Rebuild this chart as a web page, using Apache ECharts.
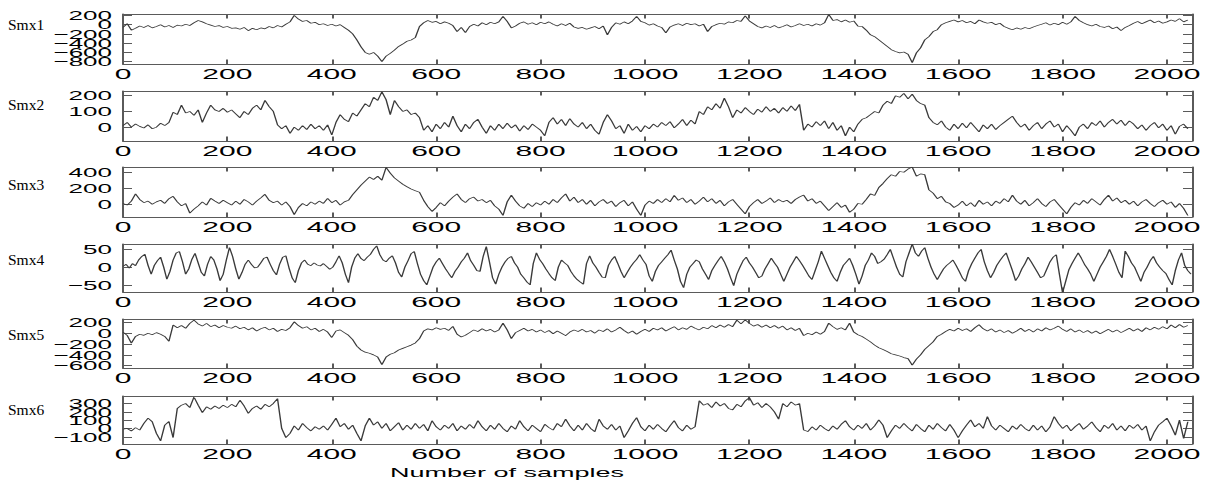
<!DOCTYPE html>
<html>
<head>
<meta charset="utf-8">
<script src="https://cdn.jsdelivr.net/npm/echarts@6/dist/echarts.min.js"></script>
<style>
html, body { margin: 0; padding: 0; background: #fff; overflow: hidden; }
#wrap { position: relative; width: 1210px; height: 483px; }
/* the plot figure is drawn at half width and stretched, like the exported figure */
#plots { position: absolute; left: 0; top: 0; width: 605px; height: 483px; transform: scaleX(2); transform-origin: 0 0; }
#names { position: absolute; left: 0; top: 0; width: 1210px; height: 483px; pointer-events: none; }
</style>
</head>
<body>
<div id="wrap"><div id="plots"></div><div id="names"></div></div>
<script>
// ---- data -------------------------------------------------------------
const channelNames = ['Smx1', 'Smx2', 'Smx3', 'Smx4', 'Smx5', 'Smx6'];
const xTitle = 'Number of samples';
const sampleTicks = [0, 200, 400, 600, 800, 1000, 1200, 1400, 1600, 1800, 2000];
const sampleCount = 2048;

// sample spacing of each stored series
const smxStep = [8, 8, 8, 6, 8, 8];

const smx1 = [
  -60, 20, -120, -80, -30, -60, -20, -70, -40, 0, -50, -20, -60, -10, -30, 10,
  -20, 40, 90, 60, 20, -10, -40, -20, -60, -40, -80, -70, -100, -60, -130, -80,
  -110, -70, -90, -40, -70, -20, -50, 10, 60, 200, 120, 70, 90, 30, 50, 0,
  20, -20, 10, -30, 0, -60, -120, -200, -330, -480, -600, -640, -600, -680, -800, -680,
  -620, -550, -470, -420, -360, -330, -280, -40, 40, 90, 50, 70, 20, 60, 30, -20,
  -150, -60, -170, -40, 10, -30, 40, 0, 50, 20, 60, 180, 70, -70, -30, 30,
  60, 10, 40, 0, 50, 20, 60, 10, -30, 20, -20, 30, -50, -80, -60, -100,
  -70, -40, -90, -30, -220, -60, 40, 10, 60, 20, 80, 180, 70, 40, -10, 20,
  -30, -60, -180, -50, -10, 20, -20, 30, 0, 20, -30, 10, -150, -40, 0, 30,
  10, 60, 40, 90, 70, 190, 80, 20, -40, -70, -30, -60, -20, -70, -40, 0,
  -50, -20, 20, -20, 10, -30, 20, -10, 40, 220, 90, 110, 60, 100, 50, 80,
  -30, -40, -120, -220, -260, -330, -400, -470, -540, -580, -610, -590, -640, -820, -610, -500,
  -330, -260, -150, -110, 0, 40, 70, 100, 60, 90, 40, 70, 20, 100, 60, 30,
  50, 0, 30, -40, -80, -110, -70, -100, -60, -90, -50, -20, 10, 40, -10, 30,
  0, 50, 10, 60, 180, 90, 40, 0, -30, 10, -40, -60, -30, -90, -50, -130,
  -60, -20, 30, 70, 20, 60, 100, 40, 80, 30, 60, 100, 70, 130, 60, 100
];

const smx2 = [
  10, 30, 0, 20, 5, -5, 15, -10, 0, 25, 10, 30, 95, 80, 140, 90,
  100, 75, 110, 30, 90, 140, 110, 100, 120, 95, 110, 85, 60, 100, 80, 120,
  140, 110, 170, 130, 100, 15, -10, 10, -40, 0, -20, 10, -15, 20, -10, 10,
  -20, 15, -50, 30, 80, 50, 35, 90, 70, 110, 150, 130, 190, 170, 225, 175,
  80, 170, 130, 100, 110, 80, 90, 60, -20, 10, -30, 20, -10, 30, 0, 70,
  10, -30, 20, -10, 30, 50, 0, -40, 10, -20, 20, -10, 25, -5, 15, -25,
  10, -15, 20, 0, -20, -55, 30, 60, 20, 50, 10, 55, 20, 0, 30, -10,
  20, -20, -45, 30, 80, 40, -10, 10, -40, 20, -20, 5, -30, 10, -10, 20,
  0, 30, 10, 35, -5, 20, 50, 10, 45, 20, 100, 80, 130, 110, 150, 120,
  185, 130, 60, 110, 90, 125, 100, 80, 115, 95, 130, 100, 120, 90, 125, 100,
  135, 105, 145, -20, 20, 0, 35, 10, 40, -10, 30, -20, 10, -55, 0, -30,
  20, 50, 60, 80, 100, 90, 140, 165, 150, 200, 190, 215, 180, 210, 170, 150,
  140, 60, 30, 15, 40, 0, -20, 20, -10, 25, -5, 30, 0, -30, 15, -10,
  20, -15, 10, 30, 50, 70, 30, 0, 20, -20, 10, 30, -10, 20, 40, 0,
  20, -30, 10, -20, -55, 0, 20, -10, 30, 10, 40, 0, 30, 50, 20, 45,
  10, 40, 20, -10, 15, -20, 10, 30, -5, 20, -20, 10, -45, 5, 20, -10
];

const smx3 = [
  10, -10, 40, 130, 60, 20, 40, 0, 30, 50, 10, 70, 100, 30, -20, 10,
  -110, -60, -20, 30, -10, 75, 40, 10, 50, 20, -10, 40, 0, 60, 30, -10,
  40, 80, 125, 50, 20, 40, -10, 30, -30, -130, -40, 10, -20, 30, 0, 40,
  10, 75, 20, 50, -10, 30, 50, 120, 180, 240, 290, 340, 310, 350, 300, 460,
  390, 330, 290, 250, 220, 190, 170, 150, 50, -30, -90, -40, 20, -20, 40, 90,
  130, 60, 20, 70, 90, 40, 60, 20, 50, -20, -60, -140, 30, 115, 40, -20,
  -50, 10, -30, 20, -10, 40, 0, 60, 20, 80, 130, 40, 90, 20, 60, 0,
  50, -20, 30, 60, 10, 40, -30, 20, 50, -20, 30, -60, -140, -10, 40, 10,
  60, 20, 70, 30, 110, 50, 80, 20, 60, 0, 40, 90, 30, 70, 10, 50,
  -20, 30, 60, 0, -60, -120, -30, 20, 60, 10, 40, 80, 20, 60, 30, 50,
  10, 60, 90, 115, 40, 70, 10, 40, -20, -80, -30, 20, -40, -10, -100, -60,
  10, 0, 60, 130, 110, 210, 260, 320, 370, 350, 410, 400, 440, 465, 350, 380,
  370, 180, 140, 70, 100, 30, 10, -40, -10, 40, -20, 20, -30, 50, 0, 30,
  -20, 40, 10, 70, 30, 115, 40, 0, 50, -20, 20, 70, 10, -30, 30, 60,
  0, -60, -120, -40, 20, -10, 50, 10, 70, 30, -10, 60, 115, 40, 80, 20,
  50, 0, 40, -20, 30, 60, 10, -30, 20, 50, 0, 30, -40, 10, -50, -140
];

const smx4 = [
  2, 8, -3, 10, 4, 20, 30, 36, 5, -20,
  5, 18, 28, 0, -34, -12, 20, 40, 44, 15,
  -20, -5, 22, 39, 12, -15, -25, 8, 30, 20,
  -5, -38, -20, 20, 55, 30, -5, -34, -15, 8,
  20, 8, -2, 0, 12, 25, 28, 8, -10, -22,
  8, 28, 32, -2, -30, -44, -10, 12, 20, 8,
  4, 12, 6, 3, 10, 2, -6, 0, 15, 32,
  12, -20, -44, 0, 25, 38, 24, 18, 28, 36,
  50, 60, 35, 20, 15, 25, 32, 12, -15, -28,
  0, 18, 38, 44, 10, -20, -38, -50, -25, 0,
  15, 25, 10, -5, -18, -30, -12, 0, 15, 25,
  40, 18, 5, -10, -12, 30, 58, 15, -30, -48,
  -20, 0, 15, 25, 30, 12, 0, -20, -30, -42,
  -50, 10, 40, 22, 10, -5, -18, -30, -38, 0,
  20, 12, 5, -12, -25, -35, -42, -48, 10, 32,
  12, 0, -15, -28, -30, 5, 20, 30, 10, -12,
  -30, -15, 0, 12, 22, 35, 20, 8, -25, -40,
  -12, 5, 15, 25, 35, 48, 20, -5, -40, -58,
  -20, 0, 10, 20, 15, -5, -20, -35, -10, 5,
  18, 30, 15, -5, -30, -52, -20, 0, 18, 28,
  12, 0, -15, -30, -25, -5, 10, 25, 12, 0,
  -20, -40, -20, 0, 15, 30, 18, 5, -10, -25,
  -35, -10, 15, 45, 25, 5, -15, -30, -40, -15,
  5, 15, 25, 5, -20, -48, -25, 5, 20, 40,
  30, 10, 15, 22, 35, 50, 25, 0, -20, -28,
  15, 40, 65, 40, 30, 45, 55, 25, 0, -20,
  -35, -20, -5, 5, 12, 20, 5, -12, -30, -40,
  -10, 10, 25, 40, 50, 15, -10, -30, -15, 5,
  18, 30, 40, 15, -10, -38, -25, -5, 10, 28,
  15, 0, -15, -30, -25, -5, 15, 28, 35, -20,
  -72, -40, -8, 10, 25, 40, 25, 8, -5, -20,
  -40, -20, 0, 15, 30, 50, 30, 8, -15, -30,
  45, 30, 12, 0, -20, -40, -15, 0, 18, 30,
  12, 0, -10, -18, -35, -50, -10, 20, 40, 5,
  -10, -20
];

const smx5 = [
  20, -40, -185, -60, -20, -40, 0, -30, 10, -20, -60, -150, 150, 100, 140, 90,
  180, 240, 170, 130, 180, 120, 150, 100, 140, 110, 90, 130, 80, 110, 60, 100,
  40, 80, 110, 60, 90, 30, 70, 50, 100, 210, 140, 90, 120, 60, 90, 30,
  70, 20, -80, 40, 60, 10, -40, -120, -240, -310, -350, -370, -400, -440, -580, -440,
  -390, -360, -310, -280, -250, -220, -180, -100, 40, 80, 60, 100, 70, 90, 50, 125,
  -20, -70, -40, 10, 60, 30, 80, 40, 70, 20, 60, 185, 60, -100, 10, 50,
  90, 40, 70, 20, 60, 10, 50, -10, 40, 0, -45, 20, 60, 30, 70, 20,
  50, 0, 60, 30, 80, 20, 60, 110, 50, 0, 40, -20, 30, 70, 30, 90,
  60, 100, 40, 80, 120, 60, 100, 70, 130, 90, 60, 110, 80, 140, 100, 150,
  110, 160, 120, 240, 170, 245, 180, 130, 160, 110, 150, 100, 140, 90, 130, 60,
  100, 50, 90, -45, 0, -30, 20, -20, 30, 185, 120, 70, 100, 60, 185, 20,
  -30, -60, -110, -160, -220, -270, -300, -340, -380, -400, -420, -450, -470, -590, -480, -400,
  -300, -230, -160, -60, -20, 30, 70, 40, 90, 50, 80, 30, 100, 155, 80, 40,
  80, 20, 60, 10, 50, 0, 40, 90, 30, 70, 20, 80, 40, 100, 60, 90,
  130, 70, 30, 80, 20, 60, 10, 50, 0, 40, -10, 30, 70, 20, 60, 10,
  50, 90, 40, 80, 30, 100, 60, 110, 70, 120, 80, 150, 100, 160, 110, 140
];

const smx6 = [
  -10, 0, -30, 10, -20, 60, 124, 80, -60, -150, 40, 84, -110, 240, 280, 300,
  250, 378, 280, 190, 260, 230, 270, 240, 280, 250, 290, 260, 339, 270, 182, 240,
  270, 230, 290, 260, 300, 359, 0, -110, -60, 30, -20, 60, 10, -30, 20, -10,
  30, -20, 50, 124, 20, 60, -10, 40, -60, -150, 30, 124, 40, 80, 0, 60,
  -30, 20, 70, -20, 40, -10, 60, 0, 50, -30, 93, 20, -20, 40, 0, 60,
  -30, 30, -10, 50, 0, 93, 20, -30, 40, -10, 60, 0, -40, 30, -10, 93,
  20, -30, 40, 0, -40, 50, 10, -20, 60, 20, 111, 30, -30, 40, -20, 60,
  0, -40, 111, 30, -10, 50, -20, 30, -111, -30, 60, 130, 20, -30, 40, -10,
  50, 0, -40, 30, 93, 10, -30, 40, -10, 20, 333, 280, 300, 250, 320, 270,
  300, 240, 222, 290, 260, 330, 370, 280, 310, 250, 300, 260, 200, 111, 300, 260,
  320, 280, 300, -18, -37, 20, -20, 40, 0, -30, 30, -10, 50, 93, 20, -20,
  40, 0, 60, -20, 30, 104, 40, -111, -30, 40, 0, 60, 10, -30, 50, 0,
  -40, 40, -10, 60, 10, -30, 50, -20, -112, -30, 40, 104, 20, 60, 0, 143,
  30, -20, 40, 0, -40, 30, -10, 50, 0, -30, 40, -20, 30, -40, 20, 143,
  60, 0, 40, -30, 20, 60, -10, 30, 80, 10, -40, 40, 0, 60, -20, 30,
  -30, 40, 0, 50, -20, 30, -151, -40, 40, 80, 124, 30, -80, 100, -120, 80
];

const smxData = [smx1, smx2, smx3, smx4, smx5, smx6];

// value-axis tick labels of each channel
const smxTicks = [
  [-800, -600, -400, -200, 0, 200],
  [0, 100, 200],
  [0, 200, 400],
  [-50, 0, 50],
  [-600, -400, -200, 0, 200],
  [-100, 0, 100, 200, 300]
];

// ---- layout -----------------------------------------------------------
const panelTop = [14, 91, 167, 244, 319, 396];
const panelHeight = [50, 50, 50, 48, 49, 48];
const yMin = [-850, -88, -159, -70, -642, -187];
const yMax = [230, 230, 466, 65, 261, 390];
const nameY = [25, 105, 185, 260, 335, 410];

const frame = '#5a5a5a';
const plainNumber = v => String(v).replace('-', '\u2212');

const grids = [], xAxes = [], yAxes = [], series = [];
channelNames.forEach((name, i) => {
  grids.push({ left: 61.5, width: 534.5, top: panelTop[i], height: panelHeight[i] });
  const tickStyle = { inside: true, length: 4.5, lineStyle: { color: frame, width: 1 } };
  const labelStyle = { fontSize: 13, color: '#000', fontFamily: 'Liberation Sans',
                       formatter: plainNumber, showMinLabel: true, showMaxLabel: true,
                       hideOverlap: false, interval: 0 };
  xAxes.push({
    gridIndex: i, type: 'value', min: 0, max: sampleCount, position: 'bottom',
    axisLine: { show: true, onZero: false, lineStyle: { color: frame, width: 1 } },
    axisTick: Object.assign({ customValues: sampleTicks }, tickStyle),
    axisLabel: Object.assign({}, labelStyle, { customValues: sampleTicks, margin: 2, fontSize: 15 }),
    splitLine: { show: false }
  });
  xAxes.push({
    gridIndex: i, type: 'value', min: 0, max: sampleCount, position: 'top',
    axisLine: { show: true, onZero: false, lineStyle: { color: frame, width: 1 } },
    axisTick: Object.assign({ customValues: sampleTicks }, tickStyle),
    axisLabel: { show: false }, splitLine: { show: false }
  });
  // tick labels sit closer together than their height, so every other one
  // goes on a second left axis (labels of one axis would otherwise be thinned out)
  const evenLabels = smxTicks[i].filter((v, k) => k % 2 === 0);
  const oddLabels = smxTicks[i].filter((v, k) => k % 2 === 1);
  yAxes.push({
    gridIndex: i, type: 'value', min: yMin[i], max: yMax[i], position: 'left',
    axisLine: { show: true, onZero: false, lineStyle: { color: frame, width: 1 } },
    axisTick: Object.assign({ customValues: smxTicks[i] }, tickStyle),
    axisLabel: Object.assign({}, labelStyle, { customValues: evenLabels, margin: 5.5 }),
    splitLine: { show: false }
  });
  yAxes.push({
    gridIndex: i, type: 'value', min: yMin[i], max: yMax[i], position: 'right',
    axisLine: { show: true, onZero: false, lineStyle: { color: frame, width: 1 } },
    axisTick: Object.assign({ customValues: smxTicks[i] }, tickStyle),
    axisLabel: { show: false }, splitLine: { show: false }
  });
  yAxes.push({
    gridIndex: i, type: 'value', min: yMin[i], max: yMax[i], position: 'left', offset: 0,
    axisLine: { show: false }, axisTick: { show: false },
    axisLabel: Object.assign({}, labelStyle, { customValues: oddLabels, margin: 5.5,
                                               show: oddLabels.length > 0 }),
    splitLine: { show: false }
  });
  series.push({
    type: 'line', name: name, xAxisIndex: 2 * i, yAxisIndex: 3 * i,
    data: smxData[i].map((v, k) => [k * smxStep[i], v]),
    symbol: 'none', showSymbol: false, silent: true,
    lineStyle: { color: '#3a3a3a', width: 0.7 }
  });
});

const plots = echarts.init(document.getElementById('plots'), null, { renderer: 'svg' });
plots.setOption({
  backgroundColor: '#fff',
  animation: false,
  title: {
    text: xTitle, left: 195, top: 466, padding: 0,
    textStyle: { fontFamily: 'Liberation Sans', fontSize: 13.5, fontWeight: 'normal', color: '#000' }
  },
  grid: grids, xAxis: xAxes, yAxis: yAxes, series: series
});

// channel names, drawn unstretched
const names = echarts.init(document.getElementById('names'), null, { renderer: 'svg' });
names.setOption({
  animation: false,
  title: channelNames.map((n, i) => ({
    text: n, left: 8, top: nameY[i] - 8.5, padding: 0,
    textStyle: { fontFamily: 'Liberation Serif', fontSize: 15.5, fontWeight: 'normal', color: '#000' }
  }))
});
</script>
</body>
</html>
